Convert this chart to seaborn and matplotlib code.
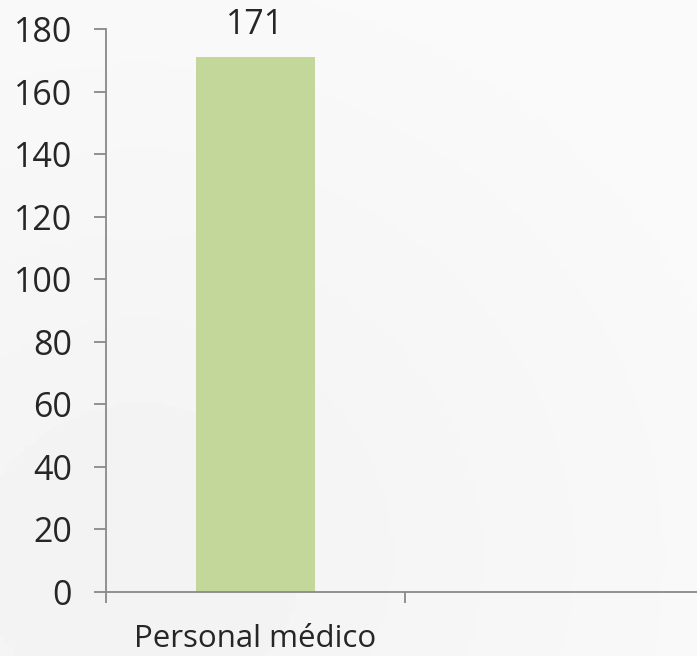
import numpy as np
import pandas as pd
import seaborn as sns
import matplotlib
matplotlib.use("Agg")
import matplotlib.pyplot as plt
from matplotlib.ticker import FixedLocator

# %% data
categories = ["Personal médico", ""]
values = [171, np.nan]
yTicks = list(range(0, 181, 20))

df = pd.DataFrame({"cat": categories, "val": values})

# %% style
sns.set_style("white")
plt.rcParams["font.family"] = ["Open Sans", "DejaVu Sans"]
fs = 24.5
axisCol = "#898989"

fig = plt.figure(figsize=(6.97, 6.56), dpi=100)
# soft grey background gradient
bg = fig.add_axes([0, 0, 1, 1], zorder=-10)
yy, xx = np.mgrid[0:1:200j, 0:1:200j]
grad = 0.95 + 0.03 * np.clip(np.sqrt((xx - 0.2) ** 2 + (yy - 0.15) ** 2) / 1.0, 0, 1)
bg.imshow(grad, cmap="gray", vmin=0, vmax=1, extent=[0, 1, 0, 1], aspect="auto", origin="lower")
bg.axis("off")

ax = fig.add_axes([106 / 697, 64 / 656, 598 / 697, 563 / 656])
ax.patch.set_alpha(0)
sns.barplot(data=df, x="cat", y="val", order=categories, color="#C4D79B",
            saturation=1, width=0.4, ax=ax, errorbar=None, linewidth=0)

ax.set_ylim(0, 180)
ax.set_xlim(-0.5, 1.5)
ax.set_yticks(yTicks)
ax.set_xlabel("")
ax.set_ylabel("")
for s in ["top", "right"]:
    ax.spines[s].set_visible(False)
for s in ["left", "bottom"]:
    ax.spines[s].set_color(axisCol)
    ax.spines[s].set_linewidth(1.3)
    ax.spines[s].set_clip_on(False)

ax.tick_params(axis="y", direction="out", length=8.6, width=1.3, color=axisCol,
               labelsize=fs, pad=16, left=True)
ax.tick_params(axis="x", which="major", length=0, labelsize=22.5, pad=23)
ax.xaxis.set_minor_locator(FixedLocator([-0.5, 0.5, 1.5]))
ax.tick_params(axis="x", which="minor", direction="out", length=8, width=1.3,
               color=axisCol, bottom=True)

for p, v in zip(ax.patches, values):
    if not np.isnan(v):
        ax.annotate(f"{v:.0f}", (p.get_x() + p.get_width() / 2, p.get_height()),
                    xytext=(0, 16.5), textcoords="offset points",
                    ha="center", va="baseline", fontsize=fs, annotation_clip=False)

fig.savefig("out.png", dpi=100)
